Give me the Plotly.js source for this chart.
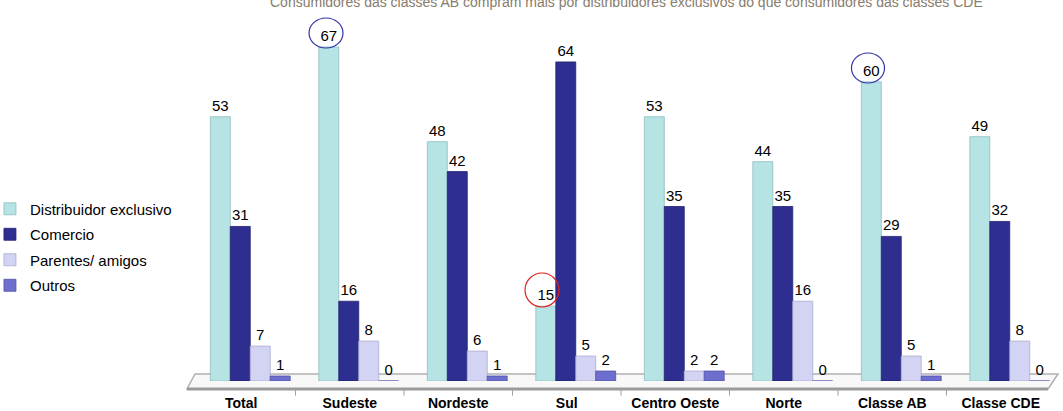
<!DOCTYPE html>
<html>
<head>
<meta charset="utf-8">
<script src="https://cdn.plot.ly/plotly-3.0.1.min.js"></script>
<style>html,body{margin:0;padding:0;background:#fff;}#chart{width:1063px;height:411px;}</style>
</head>
<body>
<div id="chart"></div>
<script>
var categories = ["Total", "Sudeste", "Nordeste", "Sul", "Centro Oeste", "Norte", "Classe AB", "Classe CDE"];
var seriesNames = ["Distribuidor exclusivo", "Comercio", "Parentes/ amigos", "Outros"];
var distribuidor = [53, 67, 48, 15, 53, 44, 60, 49];
var comercio = [31, 16, 42, 64, 35, 35, 29, 32];
var parentes = [7, 8, 6, 5, 2, 16, 5, 8];
var outros = [1, 0, 1, 2, 2, 0, 1, 0];
var titleText = "Consumidores das classes AB compram mais por distribuidores exclusivos do que consumidores das classes CDE";

var colors = ["#b6e4e5", "#2e2e90", "#d3d3f3", "#6e6ecf"];
var lineColors = ["#8fbcbd", "#22226e", "#a9a9cf", "#5050a8"];
var values = [distribuidor, comercio, parentes, outros];
var barWidth = 0.184;
var offsets = [-0.285, -0.101, 0.083, 0.267];

var FONT = "Liberation Sans, Arial, sans-serif";
var traces = values.map(function (v, i) {
  return {
    type: "bar",
    name: seriesNames[i],
    legendgroup: "g" + i,
    x: categories,
    y: v,
    width: barWidth,
    offset: offsets[i],
    marker: {color: colors[i], line: {color: lineColors[i], width: 0.8}},
    text: v.map(String),
    textposition: "outside",
    textfont: {family: FONT, size: 15, color: "#000"},
    cliponaxis: false,
    hoverinfo: "x+y+name"
  };
});

function ellipse(x0, x1, y0, y1, color) {
  return {type: "circle", xref: "paper", yref: "paper", x0: x0, x1: x1, y0: y0, y1: y1,
          line: {color: color, width: 1.2}, fillcolor: "rgba(0,0,0,0)", layer: "above"};
}

var shapes = [
  {type: "path", xref: "paper", yref: "paper", layer: "below",
   path: "M 0,-0.0229 L 0.0092,0.0201 L 1.0035,0.0201 L 0.992,-0.0229 Z",
   fillcolor: "#f8f8f8", line: {color: "#b0b0b0", width: 1.5}},
  {type: "line", xref: "paper", yref: "paper", layer: "below",
   x0: 0, x1: 0.992, y0: -0.0229, y1: -0.0229, line: {color: "#9a9a9a", width: 3}},
  ellipse(0.1406, 0.1797, 0.9542, 1.0401, "#3333aa"),
  ellipse(0.7655, 0.8036, 0.8539, 0.9398, "#3333aa"),
  ellipse(0.3894, 0.4286, 0.212, 0.3095, "#e02020")
];
for (var k = 1; k < categories.length; k++) {
  shapes.push({type: "line", xref: "paper", yref: "paper", layer: "below",
    x0: k / categories.length, x1: k / categories.length, y0: -0.0229, y1: -0.042,
    line: {color: "#a0a0a0", width: 1}});
}

var layout = {
  width: 1063, height: 411,
  margin: {l: 187, r: 8, t: 32, b: 30, autoexpand: false},
  paper_bgcolor: "#fff", plot_bgcolor: "rgba(0,0,0,0)",
  barmode: "group",
  showlegend: true,
  legend: {xref: "paper", yref: "paper", x: -0.227, y: 0.54, xanchor: "left", yanchor: "top",
           font: {family: FONT, size: 15, color: "#000"}, tracegroupgap: 3, bgcolor: "rgba(0,0,0,0)"},
  xaxis: {type: "category", range: [-0.5, 7.5], showgrid: false, showline: false, zeroline: false,
          ticks: "", ticklabelstandoff: 12, automargin: false,
          tickfont: {family: FONT, size: 14, color: "#000", weight: "bold"}, fixedrange: true},
  yaxis: {range: [0, 70], visible: false, showgrid: false, zeroline: false, fixedrange: true},
  shapes: shapes,
  annotations: [{text: titleText, xref: "paper", yref: "paper", x: (626 - 187) / 868, y: (381 - 12) / 349,
                 xanchor: "center", yanchor: "bottom", showarrow: false,
                 font: {family: FONT, size: 14, color: "#877c6c"}}]
};

Plotly.newPlot("chart", traces, layout, {displayModeBar: false, staticPlot: true});
</script>
</body>
</html>
